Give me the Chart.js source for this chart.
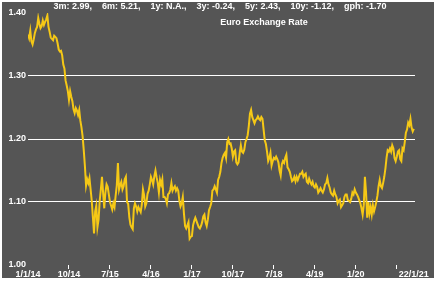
<!DOCTYPE html>
<html>
<head>
<meta charset="utf-8">
<script src="https://cdn.jsdelivr.net/npm/chart.js@4.4.1/dist/chart.umd.min.js"></script>
<style>
  body { margin: 0; background: #fff; }
  canvas { display: block; }
</style>
</head>
<body>
<canvas id="rateChart" width="445" height="282"></canvas>
<script>
// EUR/USD, four readings per month starting 1/1/14 (x axis in months)
let rates2014 = [1.366, 1.360, 1.372, 1.355, 1.350, 1.358, 1.368, 1.374, 1.378, 1.392, 1.383, 1.376,
                 1.379, 1.388, 1.381, 1.386, 1.390, 1.396, 1.378, 1.370, 1.361, 1.359, 1.357, 1.364,
                 1.362, 1.360, 1.352, 1.342, 1.339, 1.340, 1.333, 1.318, 1.312, 1.293, 1.285, 1.276,
                 1.262, 1.276, 1.267, 1.260, 1.247, 1.241, 1.249, 1.245, 1.238, 1.246, 1.229, 1.218];
let rates2015 = [1.204, 1.182, 1.157, 1.126, 1.136, 1.130, 1.138, 1.120, 1.102, 1.076, 1.050, 1.085,
                 1.094, 1.060, 1.072, 1.102, 1.120, 1.140, 1.114, 1.090, 1.115, 1.128, 1.124, 1.112,
                 1.100, 1.094, 1.088, 1.098, 1.092, 1.110, 1.126, 1.162, 1.120, 1.127, 1.132, 1.120,
                 1.125, 1.136, 1.140, 1.100, 1.097, 1.076, 1.064, 1.060, 1.057, 1.090, 1.098, 1.093];
let rates2016 = [1.085, 1.092, 1.088, 1.084, 1.096, 1.120, 1.111, 1.093, 1.098, 1.113, 1.118, 1.128,
                 1.140, 1.135, 1.128, 1.141, 1.150, 1.139, 1.130, 1.115, 1.135, 1.128, 1.136, 1.108,
                 1.108, 1.105, 1.098, 1.112, 1.114, 1.119, 1.130, 1.118, 1.122, 1.125, 1.118, 1.122,
                 1.118, 1.102, 1.093, 1.098, 1.108, 1.082, 1.062, 1.058, 1.063, 1.068, 1.042, 1.045];
let rates2017 = [1.046, 1.063, 1.070, 1.075, 1.070, 1.065, 1.060, 1.058, 1.062, 1.068, 1.077, 1.080,
                 1.068, 1.062, 1.072, 1.087, 1.092, 1.098, 1.118, 1.120, 1.125, 1.120, 1.115, 1.135,
                 1.140, 1.148, 1.162, 1.170, 1.175, 1.178, 1.170, 1.195, 1.200, 1.192, 1.193, 1.185,
                 1.172, 1.180, 1.182, 1.163, 1.160, 1.163, 1.178, 1.190, 1.180, 1.178, 1.183, 1.195];
let rates2018 = [1.200, 1.206, 1.221, 1.240, 1.246, 1.235, 1.230, 1.225, 1.230, 1.232, 1.236, 1.232,
                 1.230, 1.235, 1.232, 1.215, 1.198, 1.192, 1.180, 1.165, 1.170, 1.178, 1.158, 1.165,
                 1.170, 1.168, 1.172, 1.168, 1.163, 1.150, 1.142, 1.160, 1.165, 1.162, 1.170, 1.175,
                 1.155, 1.152, 1.148, 1.140, 1.133, 1.135, 1.140, 1.133, 1.140, 1.135, 1.140, 1.145];
let rates2019 = [1.145, 1.148, 1.140, 1.143, 1.145, 1.132, 1.130, 1.137, 1.132, 1.128, 1.132, 1.125,
                 1.123, 1.128, 1.124, 1.115, 1.118, 1.122, 1.118, 1.115, 1.120, 1.128, 1.130, 1.138,
                 1.128, 1.123, 1.115, 1.112, 1.110, 1.118, 1.112, 1.108, 1.098, 1.102, 1.104, 1.092,
                 1.095, 1.098, 1.108, 1.112, 1.112, 1.103, 1.102, 1.100, 1.105, 1.115, 1.112, 1.120];
let rates2020 = [1.115, 1.112, 1.108, 1.103, 1.098, 1.090, 1.080, 1.095, 1.140, 1.115, 1.075, 1.100,
                 1.082, 1.092, 1.080, 1.095, 1.085, 1.092, 1.100, 1.110, 1.125, 1.135, 1.125, 1.122,
                 1.130, 1.140, 1.153, 1.170, 1.182, 1.180, 1.185, 1.180, 1.190, 1.185, 1.170, 1.165,
                 1.172, 1.180, 1.182, 1.168, 1.165, 1.185, 1.182, 1.195, 1.210, 1.215, 1.226, 1.222];
let rates2021 = [1.232, 1.218, 1.212, 1.216];

let rates = [].concat(rates2014, rates2015, rates2016, rates2017, rates2018, rates2019, rates2020, rates2021);
let readingsPerMonth = 4;

// x axis ticks (months after 1/1/14) and their labels
let tickMonths = [0, 9, 18, 27, 36, 45, 54, 63, 72, 81, 84.75];
let tickLabels = ['1/1/14', '10/14', '7/15', '4/16', '1/17', '10/17', '7/18', '4/19', '1/20', '', '22/1/21'];
let yTicks = [1.00, 1.10, 1.20, 1.30, 1.40];
let gridValues = [1.10, 1.20, 1.30];

let statLabels = ['3m: 2.99', '6m: 5.21', '1y: N.A.', '3y: -0.24', '5y: 2.43', '10y: -1.12', 'gph: -1.70'];
let chartTitle = 'Euro Exchange Rate';

let points = rates.map((r, i) => ({ x: i / readingsPerMonth, y: r }));

let font = { family: '"Liberation Sans", Arial, sans-serif', size: 9, weight: 'bold' };

let panel = {
  id: 'panel',
  beforeDraw(chart) {
    let ctx = chart.ctx;
    ctx.save();
    ctx.fillStyle = '#555555';
    ctx.fillRect(2, 2, 432, 276);
    ctx.restore();
  },
  afterDraw(chart) {
    let ctx = chart.ctx;
    ctx.save();
    ctx.font = 'bold 9px "Liberation Sans", Arial, sans-serif';
    ctx.fillStyle = '#ffffff';
    ctx.textAlign = 'center';
    ctx.textBaseline = 'middle';
    ctx.fillText(statLabels.join(',    '), 220, 7);
    ctx.fillText(chartTitle, 264, 23);
    ctx.restore();
  }
};

let rateChart = new Chart(document.getElementById('rateChart').getContext('2d'), {
  type: 'line',
  data: {
    datasets: [{
      data: points,
      borderColor: '#f5c816',
      borderWidth: 2,
      pointRadius: 0,
      tension: 0,
      fill: false
    }]
  },
  options: {
    responsive: false,
    animation: false,
    devicePixelRatio: 1,
    layout: { padding: { left: 2, top: 13, right: 30, bottom: 0 } },
    plugins: {
      legend: { display: false },
      tooltip: { enabled: false }
    },
    scales: {
      x: {
        type: 'linear',
        min: 0,
        max: 85,
        afterBuildTicks: scale => { scale.ticks = tickMonths.map(v => ({ value: v })); },
        afterFit: scale => { scale.height = 17; },
        ticks: {
          autoSkip: false,
          maxRotation: 0,
          padding: 0,
          color: '#ffffff',
          font: font,
          callback: (v, i) => tickLabels[i]
        },
        grid: {
          drawOnChartArea: false,
          tickLength: 4,
          tickColor: c => (c.index === tickMonths.length - 1 || c.index === 0) ? 'rgba(0,0,0,0)' : '#ffffff'
        },
        border: { display: false }
      },
      y: {
        min: 1.00,
        max: 1.40,
        afterBuildTicks: scale => { scale.ticks = yTicks.map(v => ({ value: v })); },
        afterFit: scale => { scale.width = 26; },
        ticks: {
          padding: 2,
          color: '#ffffff',
          font: font,
          callback: v => v.toFixed(2)
        },
        grid: {
          drawTicks: false,
          lineWidth: 1,
          color: c => gridValues.some(g => Math.abs(g - c.tick.value) < 1e-6) ? '#ffffff' : 'rgba(0,0,0,0)'
        },
        border: { display: false }
      }
    }
  },
  plugins: [panel]
});
</script>
</body>
</html>
